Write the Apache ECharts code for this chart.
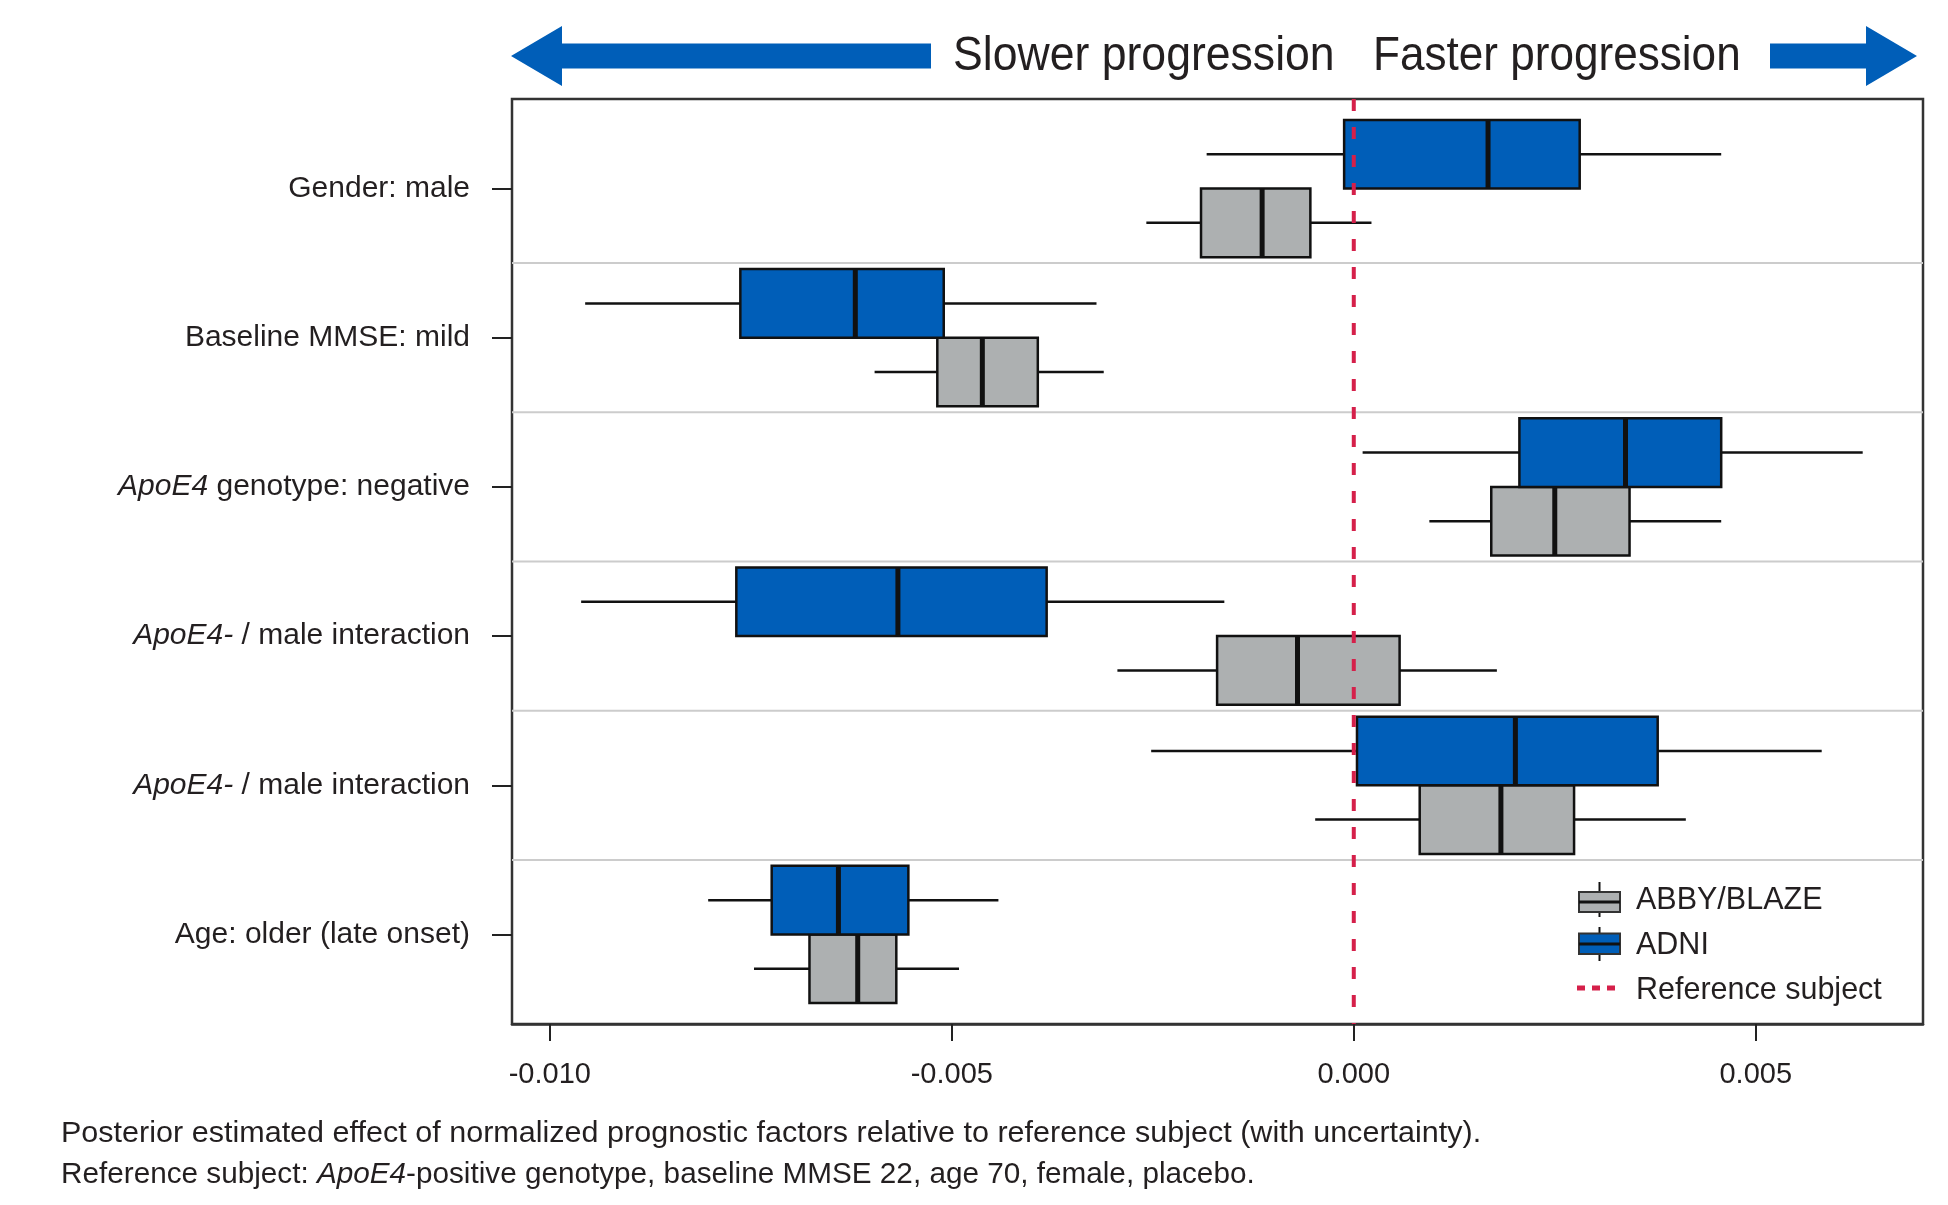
<!DOCTYPE html>
<html>
<head>
<meta charset="utf-8">
<script src="https://cdn.jsdelivr.net/npm/echarts@6/dist/echarts.min.js"></script>
<style>
  html, body { margin: 0; padding: 0; background: #ffffff; }
  #chart { width: 1948px; height: 1205px; }
</style>
</head>
<body>
<div id="chart"></div>
<script>
// ---- data -------------------------------------------------------------
const factorLabels = [
  'Gender: male',
  'Baseline MMSE: mild',
  '{i|ApoE4} genotype: negative',
  '{i|ApoE4-} / male interaction',
  '{i|ApoE4-} / male interaction',
  'Age: older (late onset)'
];

// Posterior summaries per factor: [lower whisker, Q1, median, Q3, upper whisker]
const adniStats = [
  [-0.00183, -0.00012,  0.00167,  0.00281,  0.00457],
  [-0.00956, -0.00763, -0.00620, -0.00510, -0.00320],
  [ 0.00011,  0.00206,  0.00338,  0.00457,  0.00633],
  [-0.00961, -0.00768, -0.00567, -0.00382, -0.00161],
  [-0.00252,  0.00004,  0.00201,  0.00378,  0.00582],
  [-0.00803, -0.00724, -0.00641, -0.00554, -0.00442]
];

const abbyBlazeStats = [
  [-0.00258, -0.00190, -0.00114, -0.00054,  0.00022],
  [-0.00596, -0.00518, -0.00462, -0.00393, -0.00311],
  [ 0.00094,  0.00171,  0.00250,  0.00343,  0.00457],
  [-0.00294, -0.00170, -0.00070,  0.00057,  0.00178],
  [-0.00048,  0.00082,  0.00183,  0.00274,  0.00413],
  [-0.00746, -0.00677, -0.00617, -0.00569, -0.00491]
];

const xTickValues = [-0.010, -0.005, 0.000, 0.005];
const referenceValue = 0;
const seriesNames = ['ABBY/BLAZE', 'ADNI', 'Reference subject'];

// ---- styling ----------------------------------------------------------
const FONT = '"Liberation Sans", Arial, Helvetica, sans-serif';
const TEXT = '#231f20';
const BLUE = '#005eb8';
const GREY = '#adb0b1';
const RED = '#d5204a';
const INK = '#111111';
const BOX_H = 0.46;   // box thickness in row units

const rowIdx = factorLabels.map((_, i) => i + 1);
const separators = rowIdx.slice(0, -1).map(v => v + 0.5);

function boxRenderer(fill, side) {
  return function (params, api) {
    const row = api.value(0);
    const yc = api.coord([0, row])[1];
    const h = api.size([0, BOX_H])[1];
    const top = side < 0 ? yc - h : yc;
    const mid = top + h / 2;
    const xLo = api.coord([api.value(1), row])[0];
    const xQ1 = api.coord([api.value(2), row])[0];
    const xMd = api.coord([api.value(3), row])[0];
    const xQ3 = api.coord([api.value(4), row])[0];
    const xHi = api.coord([api.value(5), row])[0];
    return {
      type: 'group',
      children: [
        { type: 'line', shape: { x1: xLo, y1: mid, x2: xHi, y2: mid },
          style: { stroke: INK, lineWidth: 2.5 } },
        { type: 'rect', shape: { x: xQ1, y: top, width: xQ3 - xQ1, height: h },
          style: { fill: fill, stroke: INK, lineWidth: 2.5 } },
        { type: 'line', shape: { x1: xMd, y1: top, x2: xMd, y2: top + h },
          style: { stroke: INK, lineWidth: 5 } }
      ]
    };
  };
}

const chart = echarts.init(document.getElementById('chart'), null, { renderer: 'canvas' });

const option = {
  backgroundColor: '#ffffff',
  animation: false,
  grid: {
    left: 512, top: 99, width: 1411, height: 925,
    show: true, borderColor: '#333333', borderWidth: 2.5, backgroundColor: 'transparent'
  },
  xAxis: {
    type: 'value',
    min: -0.01047, max: 0.00708,
    splitLine: { show: false },
    axisLine: { show: true, onZero: false, lineStyle: { color: '#333333', width: 2.5 } },
    axisTick: { show: true, customValues: xTickValues, length: 17, lineStyle: { color: '#222222', width: 2 } },
    axisLabel: {
      customValues: xTickValues, margin: 36,
      formatter: v => v.toFixed(3),
      fontFamily: FONT, fontSize: 29, color: TEXT
    }
  },
  yAxis: {
    type: 'value',
    inverse: true,
    min: 0.4, max: 6.6,
    splitLine: { show: false },
    axisLine: { show: false, onZero: false },
    axisTick: { show: true, customValues: rowIdx, length: 20, lineStyle: { color: '#222222', width: 2 } },
    axisLabel: {
      customValues: rowIdx, margin: 42,
      formatter: v => factorLabels[Math.round(v) - 1],
      fontFamily: FONT, fontSize: 30, color: TEXT,
      rich: { i: { fontFamily: FONT, fontSize: 30, fontStyle: 'italic', color: TEXT } }
    }
  },
  series: [
    {
      name: 'row separators',
      type: 'custom',
      z: 1,
      silent: true,
      data: separators.map(v => [v]),
      encode: { y: 0 },
      renderItem: function (params, api) {
        const cs = params.coordSys;
        const y = api.coord([0, api.value(0)])[1];
        return { type: 'line', shape: { x1: cs.x, y1: y, x2: cs.x + cs.width, y2: y },
                 style: { stroke: '#cccccc', lineWidth: 2 } };
      }
    },
    {
      name: seriesNames[1],
      type: 'custom',
      z: 3,
      data: adniStats.map((s, i) => [i + 1].concat(s)),
      encode: { x: [1, 2, 3, 4, 5], y: 0 },
      renderItem: boxRenderer(BLUE, -1)
    },
    {
      name: seriesNames[0],
      type: 'custom',
      z: 2,
      data: abbyBlazeStats.map((s, i) => [i + 1].concat(s)),
      encode: { x: [1, 2, 3, 4, 5], y: 0 },
      renderItem: boxRenderer(GREY, 1)
    },
    {
      name: seriesNames[2],
      type: 'custom',
      z: 5,
      silent: true,
      data: [[referenceValue]],
      encode: { x: 0 },
      renderItem: function (params, api) {
        const cs = params.coordSys;
        const x = api.coord([api.value(0), 1])[0];
        return { type: 'line', shape: { x1: x, y1: cs.y, x2: x, y2: cs.y + cs.height },
                 style: { stroke: RED, lineWidth: 4, lineDash: [12, 16] } };
      }
    }
  ],
  graphic: [
    // direction arrows above the panel
    { type: 'polygon', shape: { points: [[511, 56], [562, 26], [562, 43.5], [931, 43.5], [931, 68.5], [562, 68.5], [562, 86]] },
      style: { fill: BLUE } },
    { type: 'polygon', shape: { points: [[1917, 56], [1866, 26], [1866, 43.5], [1770, 43.5], [1770, 68.5], [1866, 68.5], [1866, 86]] },
      style: { fill: BLUE } },
    { type: 'text', x: 953, y: 56, scaleX: 0.91, style: { text: 'Slower progression', fontFamily: FONT, fontSize: 49,
      fill: TEXT, align: 'left', verticalAlign: 'middle' } },
    { type: 'text', x: 1373, y: 56, scaleX: 0.9, style: { text: 'Faster progression', fontFamily: FONT, fontSize: 49,
      fill: TEXT, align: 'left', verticalAlign: 'middle' } },

    // legend
    { type: 'line', shape: { x1: 1599.5, y1: 882, x2: 1599.5, y2: 917 }, style: { stroke: INK, lineWidth: 2 } },
    { type: 'rect', shape: { x: 1579, y: 892, width: 41, height: 20 }, style: { fill: GREY, stroke: '#333333', lineWidth: 2 } },
    { type: 'line', shape: { x1: 1579, y1: 902, x2: 1620, y2: 902 }, style: { stroke: INK, lineWidth: 3 } },
    { type: 'text', x: 1636, y: 901, style: { text: seriesNames[0], fontFamily: FONT, fontSize: 30.5, fill: TEXT, verticalAlign: 'middle' } },

    { type: 'line', shape: { x1: 1599.5, y1: 927, x2: 1599.5, y2: 961 }, style: { stroke: INK, lineWidth: 2 } },
    { type: 'rect', shape: { x: 1579, y: 933.5, width: 41, height: 20.5 }, style: { fill: BLUE, stroke: '#333333', lineWidth: 2 } },
    { type: 'line', shape: { x1: 1579, y1: 944, x2: 1620, y2: 944 }, style: { stroke: INK, lineWidth: 3 } },
    { type: 'text', x: 1636, y: 946, style: { text: seriesNames[1], fontFamily: FONT, fontSize: 30.5, fill: TEXT, verticalAlign: 'middle' } },

    { type: 'line', shape: { x1: 1577, y1: 988, x2: 1620, y2: 988 }, style: { stroke: RED, lineWidth: 5, lineDash: [8, 7] } },
    { type: 'text', x: 1636, y: 991, style: { text: seriesNames[2], fontFamily: FONT, fontSize: 30.5, fill: TEXT, verticalAlign: 'middle' } },

    // caption
    { type: 'text', x: 61, y: 1134, scaleX: 1.018, style: {
      text: 'Posterior estimated effect of normalized prognostic factors relative to reference subject (with uncertainty).',
      fontFamily: FONT, fontSize: 30, fill: TEXT, verticalAlign: 'middle' } },
    { type: 'text', x: 61, y: 1175, scaleX: 0.99, style: {
      text: 'Reference subject: {i|ApoE4}-positive genotype, baseline MMSE 22, age 70, female, placebo.',
      fontFamily: FONT, fontSize: 30, fill: TEXT, verticalAlign: 'middle',
      rich: { i: { fontFamily: FONT, fontSize: 30, fontStyle: 'italic', fill: TEXT } } } }
  ]
};

chart.setOption(option);
</script>
</body>
</html>
